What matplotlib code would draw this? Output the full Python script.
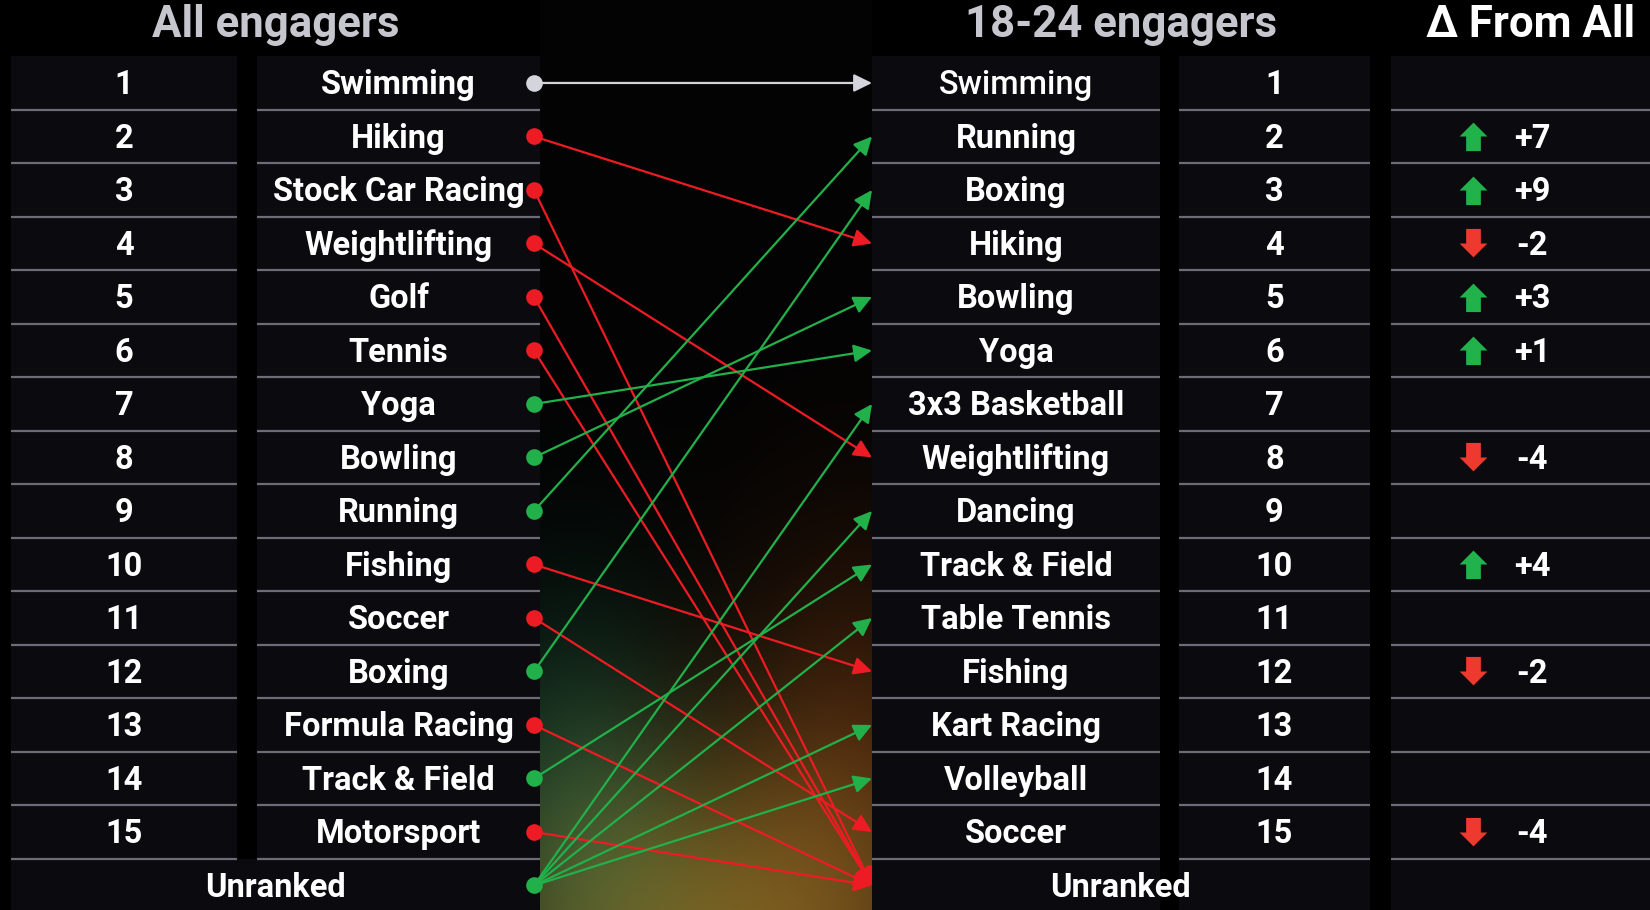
import numpy as np
import matplotlib
matplotlib.use("Agg")
from matplotlib import pyplot as plt
from matplotlib.patches import Rectangle
from matplotlib.path import Path

# rankings
all_engagers = [
    "Swimming", "Hiking", "Stock Car Racing", "Weightlifting", "Golf",
    "Tennis", "Yoga", "Bowling", "Running", "Fishing", "Soccer", "Boxing",
    "Formula Racing", "Track & Field", "Motorsport",
]
young_engagers = [
    "Swimming", "Running", "Boxing", "Hiking", "Bowling", "Yoga",
    "3x3 Basketball", "Weightlifting", "Dancing", "Track & Field",
    "Table Tennis", "Fishing", "Kart Racing", "Volleyball", "Soccer",
]
ranks = list(range(1, 16))
UNRANKED = 16

RED = "#ed1c24"
GREEN = "#22b04b"
GREY = "#d4d4dc"
PANEL = "#0a0a0f"
SEP = "#6c6c74"
TITLE = "#c6c6ce"

plt.rcParams["font.family"] = ["Roboto", "DejaVu Sans"]

fig = plt.figure(figsize=(16.5, 9.1), dpi=100)
fig.patch.set_facecolor("black")
ax = fig.add_axes([0, 0, 1, 1])
ax.set_facecolor("black")
YTOP, YBOT = -0.551, 16.458
ax.set_xlim(0, 1650)
ax.set_ylim(YBOT, YTOP)
ax.axis("off")

# column layout (x in pixels, y in rank units)
L_RANK = (11, 237)
L_NAME = (257, 540)
MID = (540, 872)
R_NAME = (872, 1160)
R_RANK = (1179, 1370)
DELTA = (1391, 1650)
DOT_X = 534


def panel(x0, x1, y0, y1):
    ax.add_patch(Rectangle((x0, y0), x1 - x0, y1 - y0, color=PANEL, lw=0, zorder=0))


panel(*L_RANK, 0.5, 15.5)
panel(*L_NAME, 0.5, 15.5)
panel(L_RANK[0], L_NAME[1], 15.5, YBOT)
for cols in (R_NAME, R_RANK, DELTA):
    panel(*cols, 0.5, YBOT)

for cols in (L_RANK, L_NAME, R_NAME, R_RANK, DELTA):
    ax.hlines([r + 0.5 for r in ranks], cols[0], cols[1], color=SEP, lw=1.6, zorder=1)

# background glow in the middle strip
W, H = MID[1] - MID[0], 910
gx, gy = np.meshgrid(np.arange(W) + MID[0], np.arange(H))


def blob(cx, cy, sx, sy):
    return np.exp(-(((gx - cx) / sx) ** 2 + ((gy - cy) / sy) ** 2) / 2)


img = np.zeros((H, W, 3)) + 0.012
img += blob(710, 940, 170, 140)[..., None] * np.array([0.42, 0.34, 0.11])
img += blob(570, 790, 80, 140)[..., None] * np.array([0.02, 0.15, 0.11])
img += blob(860, 760, 90, 160)[..., None] * np.array([0.19, 0.08, 0.02])
ax.imshow(np.clip(img, 0, 1), extent=(MID[0], MID[1], YBOT, YTOP),
          origin="upper", aspect="auto", zorder=0.5)
ax.set_xlim(0, 1650)
ax.set_ylim(YBOT, YTOP)

BASE = 0.21  # baseline offset so caps sit centred on the row
txt = dict(color="white", fontsize=23.5, fontweight="bold", ha="center", va="baseline", zorder=3)

for r, name in zip(ranks, all_engagers):
    ax.text(sum(L_RANK) / 2, r + BASE, str(r), **txt)
    ax.text(sum(L_NAME) / 2, r + BASE, name, **txt)
ax.text((L_RANK[0] + L_NAME[1]) / 2, UNRANKED + BASE, "Unranked", **txt)

for r, name in zip(ranks, young_engagers):
    kw = dict(txt)
    if name in all_engagers and all_engagers.index(name) + 1 == r:
        kw["fontweight"] = "medium"
    ax.text(sum(R_NAME) / 2, r + BASE, name, **kw)
    ax.text(sum(R_RANK) / 2, r + BASE, str(r), **txt)
ax.text((R_NAME[0] + R_RANK[1]) / 2, UNRANKED + BASE, "Unranked", **txt)

# titles
ax.text((L_RANK[0] + L_NAME[1]) / 2, 0.14, "All engagers", color=TITLE,
        fontsize=31.5, fontweight="bold", ha="center", va="baseline")
ax.text((R_NAME[0] + R_RANK[1]) / 2, 0.14, "18-24 engagers", color=TITLE,
        fontsize=31.5, fontweight="bold", ha="center", va="baseline")
ax.text(1531, 0.14, "Δ From All", color="white",
        fontsize=31.5, fontweight="bold", ha="center", va="baseline")


def connect(src, dst, colour):
    ax.annotate("", xy=(MID[1], dst), xytext=(DOT_X, src),
                arrowprops=dict(arrowstyle="-|>,head_length=0.55,head_width=0.27",
                                color=colour, lw=1.6, mutation_scale=20,
                                shrinkA=0, shrinkB=0),
                zorder=2)


for i, name in enumerate(all_engagers, start=1):
    j = young_engagers.index(name) + 1 if name in young_engagers else UNRANKED
    colour = GREY if j == i else (GREEN if j < i else RED)
    connect(i, j, colour)
    ax.plot(DOT_X, i, "o", ms=12, color=colour, mec="none", zorder=4)

for j, name in enumerate(young_engagers, start=1):
    if name not in all_engagers:
        connect(UNRANKED, j, GREEN)
ax.plot(DOT_X, UNRANKED, "o", ms=12, color=GREEN, mec="none", zorder=4)

# change column
up = Path([(-1, 0), (0, 1), (1, 0), (0.53, 0), (0.53, -1.05), (-0.53, -1.05),
           (-0.53, 0), (-1, 0)], closed=True)
down = Path([(x, -y) for x, y in up.vertices], closed=True)
for j, name in enumerate(young_engagers, start=1):
    if name not in all_engagers:
        continue
    d = all_engagers.index(name) + 1 - j
    if d == 0:
        continue
    icon, colour = (up, "#22b24c") if d > 0 else (down, "#ee3a2e")
    ax.plot(1473, j, marker=icon, ms=21, color=colour, mec="none", zorder=3)
    ax.text(1532, j + BASE, f"{d:+d}", **txt)

fig.savefig("out.png", dpi=100, facecolor="black")
